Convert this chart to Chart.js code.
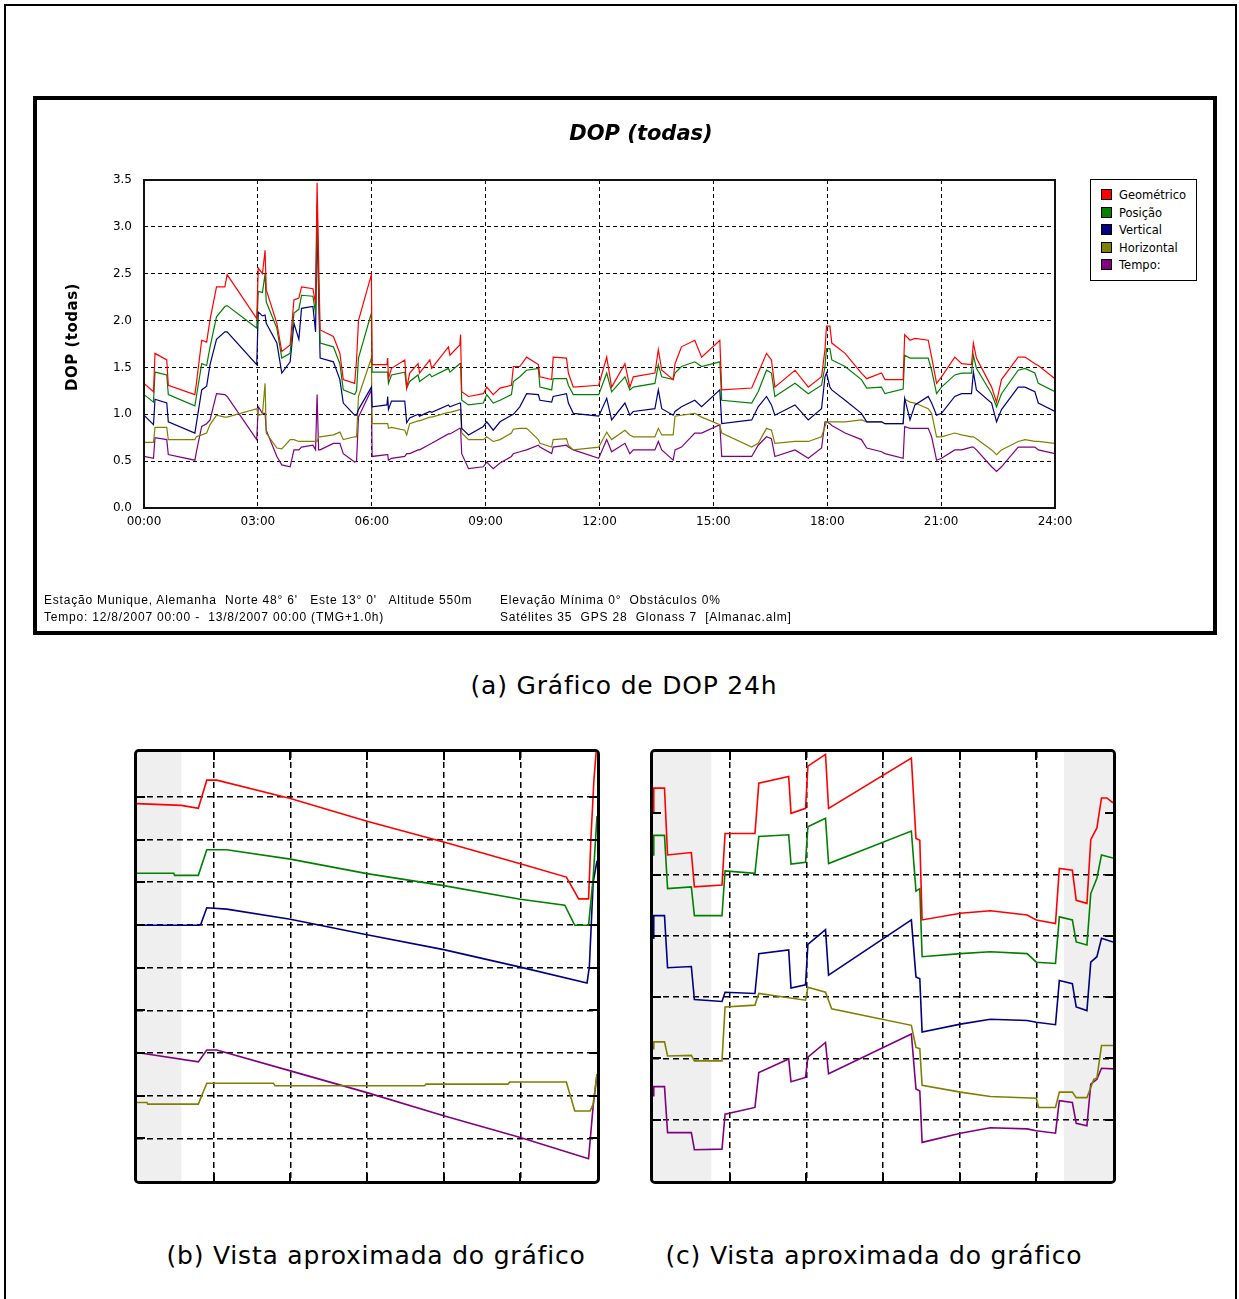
<!DOCTYPE html>
<html lang="pt">
<head>
<meta charset="utf-8">
<title>DOP (todas)</title>
<script src="https://cdn.jsdelivr.net/npm/chart.js@4.4.1/dist/chart.umd.min.js"></script>
<style>
  html, body { margin: 0; padding: 0; background: #fff; }
  body { position: relative; width: 1239px; height: 1299px; overflow: hidden; font-family: "DejaVu Sans", Verdana, sans-serif; color: #000; }
  .frame { position: absolute; left: 4px; top: 4px; width: 1229px; height: 1320px; border: 2px solid #000; }
  .panel { position: absolute; left: 33px; top: 96px; width: 1176px; height: 531px; border: 4px solid #000; background: #fff; }
  .panel canvas { position: absolute; left: 0; top: 0; }
  .title { position: absolute; left: 491px; top: 120px; width: 300px; text-align: center; font: italic bold 21px "DejaVu Sans", sans-serif; line-height: 26px; }
  .ytitle { position: absolute; left: 4px; top: 326px; width: 140px; height: 22px; line-height: 22px; text-align: center; transform: rotate(-90deg); font: bold 15px "DejaVu Sans", sans-serif; letter-spacing: 0.5px; }
  .legend { position: absolute; left: 1090px; top: 179px; width: 105px; height: 92px; border: 1px solid #000; background: #fff; padding-top: 8px; }
  .legend div { height: 17.5px; line-height: 17.5px; font: 11.5px "DejaVu Sans", sans-serif; white-space: nowrap; }
  .legend span { display: inline-block; width: 9px; height: 9px; border: 1px solid #000; margin: 0 7px 0 10px; vertical-align: -1px; }
  .foot { position: absolute; top: 592px; font: 12px "Liberation Sans", Arial, sans-serif; letter-spacing: 0.8px; line-height: 17px; white-space: pre; }
  .caption { position: absolute; text-align: center; font: 25px "DejaVu Sans", Verdana, sans-serif; letter-spacing: 0.8px; line-height: 30px; white-space: nowrap; }
  .zoom { position: absolute; top: 749px; width: 460px; height: 429px; border: 3px solid #000; border-radius: 5px; overflow: hidden; background: #fff; }
  .zoom canvas { position: absolute; left: 0; top: 0; }
</style>
</head>
<body>
<div class="frame"></div>

<div class="panel"><canvas id="dop" width="1176" height="531"></canvas></div>
<div class="title">DOP (todas)</div>
<div class="ytitle">DOP (todas)</div>
<div class="legend" id="legend"></div>
<div class="foot" style="left:44px">Estação Munique, Alemanha  Norte 48° 6'   Este 13° 0'   Altitude 550m
Tempo: 12/8/2007 00:00 -  13/8/2007 00:00 (TMG+1.0h)</div>
<div class="foot" style="left:500px">Elevação Mínima 0°  Obstáculos 0%
Satélites 35  GPS 28  Glonass 7  [Almanac.alm]</div>
<div class="caption" style="left:324px; top:671px; width:600px">(a) Gráfico de DOP 24h</div>

<div class="zoom" style="left:134px"><canvas id="zoomB" width="460" height="429"></canvas></div>
<div class="zoom" style="left:650px"><canvas id="zoomC" width="460" height="429"></canvas></div>
<div class="caption" style="left:76px; top:1241px; width:600px">(b) Vista aproximada do gráfico</div>
<div class="caption" style="left:574px; top:1241px; width:600px">(c) Vista aproximada do gráfico</div>

<script>
// --- 24h DOP series (hours since 00:00) ---
const serieNames = ['Geométrico', 'Posição', 'Vertical', 'Horizontal', 'Tempo:'];
const serieColors = ['#ff0000', '#008000', '#000080', '#808000', '#800080'];
const hourTicks = ['00:00', '03:00', '06:00', '09:00', '12:00', '15:00', '18:00', '21:00', '24:00'];
const dopTicks = ['0.0', '0.5', '1.0', '1.5', '2.0', '2.5', '3.0', '3.5'];

const hours = [
  0.00, 0.25, 0.29, 0.60, 0.64, 1.34, 1.38, 1.52, 1.65, 1.74,
  1.91, 2.13, 2.19, 2.97, 3.01, 3.12, 3.19, 3.22, 3.50, 3.63,
  3.85, 3.95, 4.08, 4.15, 4.45, 4.52, 4.56, 4.60, 4.64, 4.99,
  5.16, 5.25, 5.55, 5.60, 5.65, 5.99, 6.01, 6.40, 6.42, 6.44,
  6.52, 6.87, 6.92, 7.00, 7.22, 7.26, 7.53, 7.58, 8.02, 8.06,
  8.32, 8.34, 8.37, 8.55, 8.94, 9.03, 9.20, 9.38, 9.68, 9.73,
  9.90, 10.08, 10.39, 10.43, 10.74, 10.78, 11.13, 11.18, 11.31, 11.98,
  12.19, 12.32, 12.67, 12.80, 12.89, 13.46, 13.55, 13.64, 13.94, 13.99,
  14.16, 14.51, 14.69, 15.17, 15.22, 16.01, 16.18, 16.40, 16.53, 16.62,
  17.15, 17.50, 17.85, 17.94, 17.98, 18.07, 18.12, 18.47, 18.90, 19.04,
  19.43, 19.52, 20.00, 20.04, 20.18, 20.31, 20.66, 20.75, 20.88, 21.01,
  21.36, 21.54, 21.80, 21.85, 21.93, 22.33, 22.46, 22.59, 23.03, 23.21,
  23.47, 23.56, 24.00
];

const geometrico = [
  1.33, 1.24, 1.65, 1.58, 1.31, 1.21, 1.33, 1.79, 1.77, 2.01,
  2.36, 2.36, 2.49, 2.02, 2.56, 2.50, 2.75, 2.33, 1.97, 1.67,
  1.74, 2.22, 2.24, 2.36, 2.34, 2.18, 3.47, 2.65, 1.90, 1.83,
  1.65, 1.37, 1.33, 1.58, 2.00, 2.49, 1.53, 1.53, 1.60, 1.38,
  1.49, 1.58, 1.28, 1.44, 1.54, 1.44, 1.58, 1.49, 1.72, 1.63,
  1.74, 1.85, 1.24, 1.19, 1.22, 1.29, 1.21, 1.28, 1.31, 1.51,
  1.51, 1.61, 1.53, 1.40, 1.37, 1.61, 1.60, 1.44, 1.29, 1.31,
  1.61, 1.29, 1.54, 1.29, 1.40, 1.44, 1.69, 1.47, 1.37, 1.54,
  1.72, 1.79, 1.61, 1.79, 1.26, 1.28, 1.44, 1.65, 1.58, 1.29,
  1.47, 1.29, 1.40, 1.69, 1.94, 1.94, 1.76, 1.65, 1.44, 1.38,
  1.44, 1.37, 1.37, 1.85, 1.79, 1.81, 1.79, 1.61, 1.33, 1.40,
  1.61, 1.54, 1.53, 1.76, 1.60, 1.29, 1.13, 1.37, 1.61, 1.61,
  1.54, 1.52, 1.38
];

const posicao = [
  1.21, 1.13, 1.45, 1.42, 1.21, 1.09, 1.19, 1.54, 1.52, 1.72,
  2.04, 2.15, 2.16, 1.92, 2.31, 2.30, 2.50, 2.20, 1.92, 1.60,
  1.65, 2.08, 2.12, 2.27, 2.26, 2.08, 3.25, 2.40, 1.76, 1.72,
  1.54, 1.26, 1.21, 1.25, 1.60, 2.08, 1.45, 1.45, 1.45, 1.33,
  1.42, 1.45, 1.28, 1.35, 1.42, 1.35, 1.43, 1.40, 1.49, 1.45,
  1.54, 1.54, 1.15, 1.10, 1.12, 1.21, 1.12, 1.15, 1.21, 1.35,
  1.40, 1.47, 1.49, 1.29, 1.26, 1.38, 1.38, 1.31, 1.21, 1.21,
  1.44, 1.24, 1.40, 1.26, 1.29, 1.33, 1.53, 1.40, 1.37, 1.44,
  1.51, 1.56, 1.51, 1.56, 1.15, 1.12, 1.24, 1.47, 1.44, 1.19,
  1.33, 1.22, 1.31, 1.51, 1.70, 1.70, 1.58, 1.51, 1.37, 1.28,
  1.29, 1.22, 1.27, 1.63, 1.60, 1.60, 1.60, 1.47, 1.22, 1.29,
  1.42, 1.44, 1.44, 1.63, 1.49, 1.22, 1.08, 1.22, 1.47, 1.49,
  1.44, 1.33, 1.24
];

const vertical = [
  0.99, 0.89, 1.16, 1.12, 0.92, 0.80, 0.90, 1.26, 1.30, 1.53,
  1.80, 1.88, 1.88, 1.53, 2.09, 2.05, 2.06, 1.97, 1.76, 1.44,
  1.56, 1.97, 1.80, 2.13, 2.15, 1.88, 3.07, 2.30, 1.60, 1.56,
  1.37, 1.12, 0.99, 0.99, 1.05, 1.29, 1.08, 1.10, 1.19, 1.05,
  1.14, 1.14, 0.91, 0.96, 1.00, 0.98, 1.03, 1.02, 1.10, 1.08,
  1.12, 1.12, 0.85, 0.78, 0.87, 0.92, 0.83, 0.92, 0.99, 1.00,
  1.08, 1.22, 1.21, 1.15, 1.13, 1.19, 1.22, 1.12, 1.01, 0.98,
  1.17, 0.94, 1.12, 0.99, 1.03, 1.06, 1.26, 1.06, 0.99, 1.03,
  1.08, 1.15, 1.08, 1.26, 0.90, 0.94, 1.08, 1.19, 1.10, 0.99,
  1.10, 0.94, 1.06, 1.40, 1.44, 1.29, 1.26, 1.15, 1.01, 0.92,
  0.92, 0.90, 0.90, 1.17, 0.94, 1.10, 1.19, 1.12, 0.99, 1.01,
  1.19, 1.22, 1.22, 1.45, 1.26, 1.12, 0.92, 1.05, 1.29, 1.29,
  1.24, 1.12, 1.03
];

const horizontal = [
  0.70, 0.70, 0.86, 0.86, 0.73, 0.73, 0.76, 0.78, 0.80, 0.89,
  0.99, 0.97, 0.97, 1.06, 0.99, 1.00, 1.33, 0.80, 0.64, 0.63,
  0.73, 0.73, 0.71, 0.71, 0.71, 0.71, 0.71, 0.76, 0.76, 0.78,
  0.81, 0.73, 0.76, 0.76, 1.19, 1.60, 0.90, 0.90, 0.90, 0.85,
  0.86, 0.83, 0.78, 0.90, 0.93, 0.93, 0.97, 0.97, 1.02, 1.02,
  1.05, 1.05, 0.80, 0.73, 0.73, 0.76, 0.71, 0.73, 0.80, 0.84,
  0.85, 0.85, 0.73, 0.69, 0.65, 0.73, 0.74, 0.67, 0.62, 0.65,
  0.81, 0.73, 0.83, 0.78, 0.76, 0.76, 0.85, 0.78, 0.78, 0.98,
  0.99, 1.01, 0.97, 0.89, 0.80, 0.65, 0.69, 0.85, 0.83, 0.69,
  0.71, 0.71, 0.76, 0.87, 0.92, 0.92, 0.92, 0.92, 0.94, 0.92,
  0.92, 0.90, 0.90, 1.16, 1.13, 1.12, 1.06, 1.01, 0.76, 0.76,
  0.80, 0.78, 0.76, 0.76, 0.74, 0.62, 0.57, 0.62, 0.71, 0.73,
  0.71, 0.71, 0.69
];

const tempo = [
  0.55, 0.53, 0.75, 0.73, 0.57, 0.51, 0.60, 0.87, 0.90, 0.94,
  1.22, 1.21, 1.19, 0.73, 1.08, 1.01, 1.01, 0.83, 0.55, 0.46,
  0.44, 0.62, 0.62, 0.65, 0.67, 0.62, 1.21, 0.62, 0.62, 0.69,
  0.69, 0.58, 0.49, 0.50, 0.97, 1.26, 0.55, 0.57, 0.57, 0.51,
  0.53, 0.55, 0.58, 0.58, 0.62, 0.62, 0.68, 0.69, 0.79, 0.79,
  0.85, 0.85, 0.58, 0.42, 0.44, 0.49, 0.42, 0.48, 0.55, 0.58,
  0.60, 0.62, 0.67, 0.65, 0.58, 0.65, 0.67, 0.65, 0.62, 0.53,
  0.73, 0.60, 0.69, 0.58, 0.62, 0.62, 0.71, 0.62, 0.51, 0.62,
  0.65, 0.80, 0.80, 0.89, 0.55, 0.55, 0.67, 0.76, 0.74, 0.55,
  0.62, 0.53, 0.64, 0.92, 0.92, 0.90, 0.88, 0.80, 0.73, 0.64,
  0.60, 0.58, 0.53, 0.87, 0.85, 0.85, 0.85, 0.76, 0.51, 0.53,
  0.62, 0.62, 0.65, 0.65, 0.62, 0.44, 0.39, 0.44, 0.65, 0.65,
  0.65, 0.62, 0.58
];

// --- close-up (b): grid units, 0..6 across, 0..10 up ---
const bGeoX = [0, 0.58, 0.80, 0.91, 1.04, 2, 3, 4, 5, 5.60, 5.70, 5.76, 5.89, 5.92, 5.96, 6.0];
const bGeo  = [8.84, 8.80, 8.73, 9.39, 9.39, 8.96, 8.43, 7.94, 7.43, 7.12, 6.80, 6.61, 6.61, 8.0, 9.4, 10.3];
const bPosX = [0, 0.48, 0.49, 0.80, 0.91, 1.17, 2, 3, 4, 5, 5.58, 5.71, 5.89, 5.95, 6.0];
const bPos  = [7.21, 7.21, 7.16, 7.16, 7.76, 7.76, 7.54, 7.20, 6.92, 6.60, 6.46, 5.99, 5.99, 7.1, 8.55];
const bVerX = [0, 0.80, 0.83, 0.91, 1.17, 2, 3, 4, 5, 5.87, 5.90, 5.95, 6.0];
const bVer  = [5.99, 5.99, 6.0, 6.40, 6.37, 6.13, 5.77, 5.42, 5.01, 4.64, 5.01, 7.0, 7.5];
const bHorX = [0, 0.13, 0.14, 0.80, 0.91, 1.78, 1.80, 3.75, 3.77, 4.84, 4.86, 5.60, 5.71, 5.91, 5.95, 6.0];
const bHor  = [1.84, 1.84, 1.80, 1.80, 2.29, 2.29, 2.23, 2.23, 2.27, 2.27, 2.32, 2.32, 1.64, 1.64, 1.80, 2.50];
const bTemX = [0, 0.80, 0.91, 1.04, 2, 3, 4, 5, 5.89, 5.95, 6.0];
const bTem  = [3.01, 2.79, 3.07, 3.07, 2.58, 2.07, 1.53, 1.02, 0.52, 1.76, 2.50];
const bShade = [[0, 0.58]];

// --- close-up (c): grid units, 0..6 across, 0..7 up ---
const cGeoX = [0, 0.01, 0.15, 0.19, 0.50, 0.54, 0.90, 0.94, 1.33, 1.38, 1.77, 1.80, 1.99, 2.02, 2.25, 2.29, 3.37, 3.43, 3.48, 3.51,
               4.01, 4.40, 4.88, 5.00, 5.25, 5.30, 5.47, 5.52, 5.66, 5.71, 5.79, 5.85, 5.92, 6.0];
const cGeo  = [6.03, 6.41, 6.41, 5.32, 5.36, 4.80, 4.83, 5.67, 5.67, 6.49, 6.60, 6.00, 6.08, 6.77, 6.96, 6.08, 6.90, 5.59, 5.56, 4.26,
               4.37, 4.41, 4.34, 4.26, 4.20, 5.10, 5.07, 4.58, 4.53, 5.57, 5.76, 6.25, 6.25, 6.17];
const cStepX = [0, 0.01, 0.15, 0.19, 0.50, 0.54, 0.90, 0.94, 1.33, 1.38, 1.77, 1.80, 1.99, 2.02, 2.25, 2.29, 3.37, 3.43, 3.48, 3.51,
                4.01, 4.40, 4.88, 5.00, 5.25, 5.30, 5.47, 5.52, 5.66, 5.71, 5.79, 5.85, 6.0];
const cPos  = [5.32, 5.64, 5.64, 4.77, 4.80, 4.33, 4.33, 5.06, 5.02, 5.62, 5.65, 5.17, 5.20, 5.78, 5.92, 5.18, 5.71, 4.73, 4.77, 3.66,
               3.71, 3.74, 3.71, 3.57, 3.55, 4.31, 4.26, 3.90, 3.85, 4.69, 4.94, 5.32, 5.27];
const cVer  = [3.96, 4.33, 4.33, 3.48, 3.50, 2.96, 2.93, 3.08, 3.06, 3.71, 3.77, 3.15, 3.20, 3.86, 4.10, 3.36, 4.26, 3.33, 3.30, 2.43,
               2.56, 2.64, 2.62, 2.59, 2.55, 3.27, 3.22, 2.84, 2.78, 3.57, 3.66, 3.96, 3.90];
const cTem  = [1.39, 1.54, 1.54, 0.79, 0.79, 0.51, 0.52, 1.09, 1.20, 1.77, 1.99, 1.62, 1.69, 2.02, 2.26, 1.75, 2.40, 1.50, 1.47, 0.63,
               0.78, 0.87, 0.85, 0.82, 0.78, 1.31, 1.28, 0.94, 0.90, 1.58, 1.66, 1.84, 1.83];
const cHorX = [0, 0.01, 0.15, 0.19, 0.50, 0.54, 0.90, 0.94, 1.33, 1.38, 1.99, 2.02, 2.25, 2.33, 3.37, 3.43, 3.48, 3.51, 4.01, 4.40,
               5.00, 5.03, 5.25, 5.30, 5.47, 5.52, 5.66, 5.75, 5.79, 5.85, 6.0];
const cHor  = [2.16, 2.27, 2.27, 2.04, 2.05, 1.96, 1.96, 2.84, 2.87, 3.06, 2.95, 3.16, 3.08, 2.81, 2.54, 2.18, 2.16, 1.56, 1.45, 1.38,
               1.35, 1.20, 1.20, 1.45, 1.45, 1.36, 1.36, 1.66, 1.68, 2.21, 2.21];
const cShade = [[0, 0.76], [5.36, 6]];

Chart.defaults.font.family = '"DejaVu Sans", Verdana, sans-serif';
Chart.defaults.color = '#000';

const toPoints = (xs, ys) => xs.map((x, i) => ({ x: x, y: ys[i] }));

// legend box
const legendEl = document.getElementById('legend');
serieNames.forEach((name, i) => {
  const row = document.createElement('div');
  row.innerHTML = '<span style="background:' + serieColors[i] + '"></span>' + name;
  legendEl.appendChild(row);
});

// solid frame around the plot area
const plotFrame = {
  id: 'plotFrame',
  afterDatasetsDraw(chart) {
    const a = chart.chartArea, ctx = chart.ctx;
    ctx.save();
    ctx.strokeStyle = '#111';
    ctx.lineWidth = 2;
    ctx.strokeRect(a.left, a.top, a.right - a.left, a.bottom - a.top);
    ctx.restore();
  }
};

const mainSeries = [geometrico, posicao, vertical, horizontal, tempo];

new Chart(document.getElementById('dop'), {
  type: 'line',
  data: {
    datasets: mainSeries.map((vals, i) => ({
      label: serieNames[i],
      data: toPoints(hours, vals),
      borderColor: serieColors[i],
      borderWidth: 1.2,
      pointRadius: 0,
      tension: 0,
      fill: false
    }))
  },
  options: {
    responsive: false,
    animation: false,
    devicePixelRatio: 1,
    layout: { padding: { top: 80, right: 158, left: 0, bottom: 0 } },
    plugins: { legend: { display: false }, tooltip: { enabled: false } },
    scales: {
      x: {
        type: 'linear', min: 0, max: 24,
        afterFit: s => { s.height = 123; },
        afterBuildTicks: s => { s.ticks = hourTicks.map((t, i) => ({ value: i * 3 })); },
        ticks: { callback: v => hourTicks[Math.round(v / 3)], font: { size: 12 }, padding: 7, maxRotation: 0, autoSkip: false },
        grid: { color: '#000', lineWidth: 1, drawTicks: false },
        border: { display: false, dash: [4, 3] }
      },
      y: {
        type: 'linear', min: 0, max: 3.5,
        afterFit: s => { s.width = 107; },
        afterBuildTicks: s => { s.ticks = dopTicks.map((t, i) => ({ value: i * 0.5 })); },
        ticks: { callback: v => dopTicks[Math.round(v / 0.5)], font: { size: 12 }, padding: 12 },
        grid: { color: '#000', lineWidth: 1, drawTicks: false },
        border: { display: false, dash: [4, 3] }
      }
    }
  },
  plugins: [plotFrame]
});

// light grey shading behind the close-up grids
const shading = {
  id: 'shading',
  beforeDraw(chart, args, opts) {
    const a = chart.chartArea, ctx = chart.ctx, x = chart.scales.x;
    ctx.save();
    ctx.fillStyle = '#efefef';
    opts.ranges.forEach(r => {
      const x0 = x.getPixelForValue(r[0]), x1 = x.getPixelForValue(r[1]);
      ctx.fillRect(x0, a.top, x1 - x0, a.bottom - a.top);
    });
    ctx.restore();
  }
};

// short solid marks where grid lines meet the edges
const edgeMarks = {
  id: 'edgeMarks',
  afterDraw(chart, args, opts) {
    const a = chart.chartArea, ctx = chart.ctx, sx = chart.scales.x, sy = chart.scales.y;
    ctx.save();
    ctx.strokeStyle = '#000';
    ctx.lineWidth = 2;
    ctx.beginPath();
    opts.yMarks.forEach(v => {
      const py = Math.round(sy.getPixelForValue(v));
      ctx.moveTo(a.left, py); ctx.lineTo(a.left + 8, py);
      ctx.moveTo(a.right - 8, py); ctx.lineTo(a.right, py);
    });
    opts.xMarks.forEach(v => {
      const px = Math.round(sx.getPixelForValue(v));
      ctx.moveTo(px, a.top); ctx.lineTo(px, a.top + 8);
      ctx.moveTo(px, a.bottom - 8); ctx.lineTo(px, a.bottom);
    });
    ctx.stroke();
    ctx.restore();
  }
};

function closeUp(id, lines, yMax, gridY, marksY, ranges) {
  const gridX = [1, 2, 3, 4, 5];
  return new Chart(document.getElementById(id), {
    type: 'line',
    data: {
      datasets: lines.map((l, i) => ({
        data: toPoints(l[0], l[1]),
        borderColor: serieColors[i],
        borderWidth: 1.6,
        pointRadius: 0,
        tension: 0,
        fill: false
      }))
    },
    options: {
      responsive: false,
      animation: false,
      devicePixelRatio: 1,
      layout: { padding: 0 },
      plugins: {
        legend: { display: false },
        tooltip: { enabled: false },
        shading: { ranges: ranges },
        edgeMarks: { yMarks: marksY, xMarks: gridX }
      },
      scales: {
        x: {
          type: 'linear', min: 0, max: 6,
          afterBuildTicks: s => { s.ticks = gridX.map(v => ({ value: v })); },
          afterFit: s => { s.height = 0; },
          ticks: { display: false },
          grid: { color: '#000', lineWidth: 1.5, drawTicks: false },
          border: { display: false, dash: [6, 4] }
        },
        y: {
          type: 'linear', min: 0, max: yMax,
          afterBuildTicks: s => { s.ticks = gridY.map(v => ({ value: v })); },
          afterFit: s => { s.width = 0; },
          ticks: { display: false },
          grid: { color: '#000', lineWidth: 1.5, drawTicks: false },
          border: { display: false, dash: [6, 4] }
        }
      }
    },
    plugins: [shading, edgeMarks]
  });
}

closeUp('zoomB',
  [[bGeoX, bGeo], [bPosX, bPos], [bVerX, bVer], [bHorX, bHor], [bTemX, bTem]],
  10.05, [1, 2, 3, 4, 5, 6, 7, 8, 9], [1, 2, 3, 4, 5, 6, 7, 8, 9], bShade);

closeUp('zoomC',
  [[cGeoX, cGeo], [cStepX, cPos], [cStepX, cVer], [cHorX, cHor], [cStepX, cTem]],
  7, [1, 2, 3, 4, 5], [1, 2, 3, 4, 5, 6], cShade);
</script>
</body>
</html>
